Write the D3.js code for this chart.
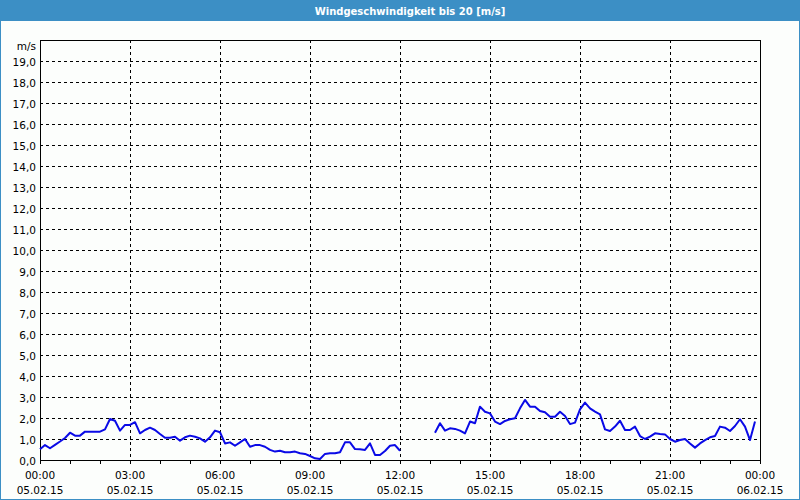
<!DOCTYPE html>
<html><head><meta charset="utf-8">
<script src="https://cdn.jsdelivr.net/npm/d3@7"></script>
<style>
html,body{margin:0;padding:0;background:#fcfefc;}
svg{display:block;}
</style></head>
<body>
<svg id="chart" width="800" height="500"></svg>
<script>
const title = "Windgeschwindigkeit bis 20 [m/s]";
const unitLabel = "m/s";
const startTime = "2015-02-05T00:00:00";
const endTime = "2015-02-06T00:00:00";
const stepMinutes = 10;
// 10-minute wind speed readings, 00:00 .. 23:50 (null = no data)
const windSpeed = [
  0.51,0.71,0.56,0.72,0.88,1.05,1.30,1.16,1.16,1.35,1.35,1.35,1.35,1.46,1.95,1.87,
  1.40,1.67,1.67,1.80,1.27,1.43,1.54,1.43,1.24,1.06,1.06,1.11,0.92,1.08,1.16,1.11,
  1.03,0.87,1.08,1.40,1.32,0.79,0.84,0.68,0.84,1.00,0.63,0.71,0.71,0.63,0.48,0.40,
  0.44,0.37,0.37,0.40,0.32,0.29,0.19,0.08,0.05,0.29,0.32,0.32,0.37,0.84,0.84,0.52,
  0.51,0.48,0.79,0.24,0.24,0.43,0.68,0.71,0.44,
  null,null,null,null,null,null,
  1.30,1.75,1.40,1.51,1.48,1.40,1.27,1.83,1.75,2.54,2.30,2.22,1.83,1.71,1.86,1.94,
  1.99,2.46,2.86,2.54,2.54,2.33,2.27,2.06,2.06,2.30,2.10,1.71,1.78,2.41,2.73,2.46,
  2.30,2.17,1.46,1.38,1.59,1.87,1.43,1.43,1.59,1.14,1.00,1.11,1.27,1.24,1.22,1.00,
  0.87,0.95,1.00,0.79,0.59,0.79,0.95,1.08,1.14,1.59,1.54,1.38,1.62,1.94,1.59,0.95,1.83
];
const yMax = 20;
const yTicks = [0,1,2,3,4,5,6,7,8,9,10,11,12,13,14,15,16,17,18,19];

const W = 800, H = 500;
const m = {left: 40, right: 40, top: 40, bottom: 40};
const svg = d3.select("#chart");
const font = "'DejaVu Sans', Verdana, sans-serif";

// window frame and title bar
svg.append("rect").attr("x",0.5).attr("y",0.5).attr("width",W-1).attr("height",H-1)
  .attr("fill","#fcfefc").attr("stroke","#3c8fc5").attr("stroke-width",1);
svg.append("rect").attr("x",0).attr("y",0).attr("width",W).attr("height",21).attr("fill","#3c8fc5");
svg.append("text").attr("x",W/2+10).attr("y",11).attr("text-anchor","middle")
  .attr("dominant-baseline","central").attr("fill","#ffffff")
  .attr("font-family",font).attr("font-size","10px").attr("font-weight","bold")
  .text(title);

const t0 = new Date(startTime), t1 = new Date(endTime);
const x = d3.scaleTime().domain([t0,t1]).range([m.left, W-m.right]);
const y = d3.scaleLinear().domain([0,yMax]).range([H-m.bottom, m.top]);

const data = windSpeed.map((v,i)=>({t:new Date(t0.getTime()+i*stepMinutes*60000), v}));

const g = svg.append("g");
// horizontal grid
g.selectAll("line.hg").data(yTicks.filter(d=>d>0)).join("line")
  .attr("x1",m.left).attr("x2",W-m.right)
  .attr("y1",d=>Math.round(y(d))+0.5).attr("y2",d=>Math.round(y(d))+0.5)
  .attr("stroke","#000").attr("stroke-dasharray","3,3").attr("stroke-width",1);
// vertical grid every 3h
const majorTicks = x.ticks(d3.timeHour.every(3));
g.selectAll("line.vg").data(majorTicks.filter(d=>+d>+t0 && +d<+t1)).join("line")
  .attr("x1",d=>Math.round(x(d))+0.5).attr("x2",d=>Math.round(x(d))+0.5)
  .attr("y1",m.top).attr("y2",H-m.bottom)
  .attr("stroke","#000").attr("stroke-dasharray","3,3").attr("stroke-width",1);

// minor hourly ticks below axis
const hourTicks = x.ticks(d3.timeHour.every(1));
g.selectAll("line.mt").data(hourTicks).join("line")
  .attr("x1",d=>Math.round(x(d))+0.5).attr("x2",d=>Math.round(x(d))+0.5)
  .attr("y1",H-m.bottom).attr("y2",H-m.bottom+4)
  .attr("stroke","#000").attr("stroke-width",1);

// plot frame
g.append("rect").attr("x",m.left+0.5).attr("y",m.top+0.5)
  .attr("width",W-m.left-m.right).attr("height",H-m.top-m.bottom)
  .attr("fill","none").attr("stroke","#000").attr("stroke-width",1);

// y labels
const fmtY = d=>d3.format(".1f")(d).replace(".",",");
g.selectAll("text.yl").data(yTicks).join("text")
  .attr("x",m.left-4).attr("y",d=>y(d)+1).attr("text-anchor","end")
  .attr("dominant-baseline","central").attr("font-family",font).attr("font-size","10.5px")
  .attr("fill","#000").text(fmtY);
g.append("text").attr("x",m.left-4).attr("y",46).attr("text-anchor","end")
  .attr("dominant-baseline","central").attr("font-family",font).attr("font-size","10.5px")
  .text(unitLabel);

// x labels
const fmtT = d3.timeFormat("%H:%M"), fmtD = d3.timeFormat("%d.%m.%y");
const xl = g.selectAll("g.xl").data(majorTicks).join("g")
  .attr("transform",d=>`translate(${x(d)},0)`);
xl.append("text").attr("y",475).attr("text-anchor","middle").attr("dominant-baseline","central")
  .attr("font-family",font).attr("font-size","10.5px").text(fmtT);
xl.append("text").attr("y",490).attr("text-anchor","middle").attr("dominant-baseline","central")
  .attr("font-family",font).attr("font-size","10.5px").text(fmtD);

// line
const line = d3.line().defined(d=>d.v!=null).x(d=>x(d.t)).y(d=>y(d.v));
g.append("path").datum(data).attr("d",line)
  .attr("fill","none").attr("stroke","#0a0ae6").attr("stroke-width",2)
  .attr("stroke-linejoin","round");
</script>
</body></html>
